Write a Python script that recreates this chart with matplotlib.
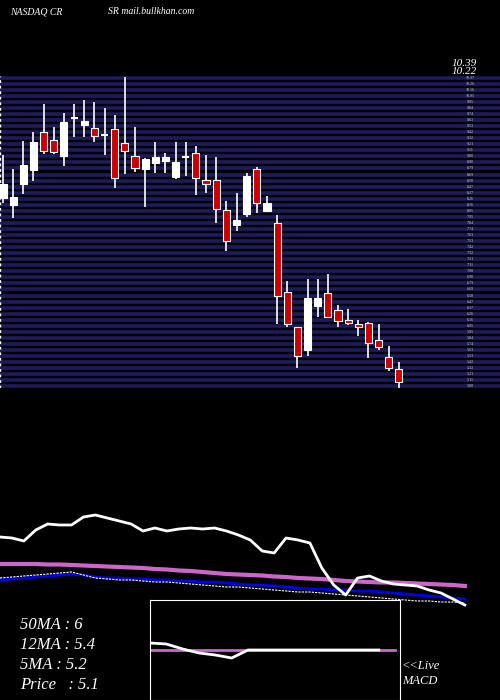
import matplotlib
matplotlib.use("Agg")
import matplotlib.pyplot as plt
from matplotlib.patches import Rectangle
import numpy as np

opens  = [8.28,8.15,8.52,8.76,9.43,9.29,9.01,9.67,9.55,9.50,9.37,9.48,9.23,9.01,8.78,8.89,8.92,8.64,8.99,9.06,
          8.59,8.59,8.07,7.81,8.00,8.78,8.05,7.84,6.64,6.03,5.63,6.40,6.62,6.33,6.15,6.08,6.10,5.81,5.51,5.30]
closes = [8.52,8.29,8.85,9.25,9.09,9.08,9.60,9.66,9.62,9.36,9.36,8.62,9.09,8.80,8.96,8.99,8.99,8.90,8.98,8.62,
          8.52,8.09,7.53,7.89,8.66,8.19,8.19,6.57,6.08,5.53,6.54,6.54,6.21,6.14,6.10,6.03,5.75,5.68,5.32,5.07]
highs  = [9.03,8.78,9.27,9.43,9.91,9.51,9.76,9.91,9.98,9.95,9.84,9.72,10.38,9.51,8.97,9.25,9.06,9.25,9.25,9.18,
          9.03,8.99,8.22,8.36,8.71,8.82,8.31,7.98,6.83,6.03,6.87,6.87,6.95,6.42,6.35,6.15,6.12,6.08,5.70,5.42]
lows   = [8.19,7.93,8.35,8.57,9.04,9.04,8.83,9.34,9.34,9.25,9.03,8.45,8.69,8.73,8.12,8.71,8.71,8.61,8.66,8.33,
          8.36,7.84,7.35,7.70,7.95,8.02,8.03,6.08,6.03,5.32,5.53,6.21,6.21,6.03,6.07,5.88,5.49,5.63,5.27,4.97]

price_line = [83,82,79,90,96,95,95,103,105,102,99,96,89,92,89,91,92,91,92,89,85,80,69,67,82,80,77,52,35,25,
              42,44,39,36,35,34,30,27,21,15]
ma50 = [56,56,56,56,55.5,55.5,55,54.5,54,53.5,53,52.5,52,51,50.5,49.5,49,48,47,46,45.5,45,44.5,43.5,43,42,41.5,
        41,40,39,38.5,38,37.5,37.5,37,36.5,36,35.5,35,34]
ma12 = [40,41,42,43,44,45,46,45,43,42,42,41,41,40,40,39,39,38,38,37,36,35,35,34,33,32,31,31,30,30,29,29,28,27,
        26,25,24,23,22,21]
ma5 = [42,43,44,45,46,47,48,45,42,41,40,40,39,38,38,37,36,35,34,33,33,32,31,30,29,28,28,27,26,25,24,23,22,21,
       20,19,19,18,18,17]
macd_line = [7,6,1,-3,-5,-8,0,0,0,0,0,0,0,0,0,0]
macd_signal = [0]*16

fig = plt.figure(figsize=(5, 7), dpi=100, facecolor="black")
W, H = 500, 700
def axes_px(x0, y0, x1, y1):
    return fig.add_axes([x0 / W, 1 - y1 / H, (x1 - x0) / W, (y1 - y0) / H])

# price panel
ax = axes_px(0, 76, 500, 388)
ax.set_facecolor("black")
ptop, pbot = 10.40, 11.722 - 0.0174 * 388
ax.set_ylim(pbot, ptop)
ax.set_xlim(-0.3, 48.96)
levels = np.linspace(ptop - 0.03, pbot + 0.03, 52)
for lv in levels:
    ax.axhline(lv, color="#1c1c5c", lw=2.6, zorder=0)
    ax.text(46.0, lv, f"{lv:.2f}", color="#cccccc", fontsize=3, va="center", ha="center",
            family="Liberation Serif", zorder=1)
for i, (o, c, h, l) in enumerate(zip(opens, closes, highs, lows)):
    ax.vlines(i, l, h, color="white", lw=1.2, zorder=2)
    up = c >= o
    bh = abs(c - o)
    if bh < 0.03:
        ax.hlines(o, i - 0.35, i + 0.35, color="white", lw=1.5, zorder=3)
    else:
        ax.add_patch(Rectangle((i - 0.35, min(o, c)), 0.7, bh,
                               facecolor="white" if up else "#cc0000",
                               edgecolor="white", lw=0.8, zorder=3))
ax.axvline(-0.28, color="white", lw=1, ls=(0, (2, 2)))
ax.axis("off")
fig.text(452 / W, 1 - 63 / H, "10.39", color="white", fontsize=8, family="Liberation Serif",
         style="italic", va="center")
fig.text(452 / W, 1 - 72 / H, "10.22", color="white", fontsize=8, family="Liberation Serif",
         style="italic", va="center")

# MA panel
ax2 = axes_px(0, 500, 500, 700)
ax2.set_facecolor("none")
ax2.set_xlim(0, 41.95)
ax2.set_ylim(-80, 120)
x = np.arange(len(price_line))
ax2.plot(x, ma50, color="#cc66cc", lw=3)
ax2.plot(x, ma12, color="#0000ee", lw=2)
ax2.plot(x, ma5, color="white", lw=0.8, ls=(0, (2, 1)))
ax2.plot(x, price_line, color="white", lw=2)
ax2.axis("off")

# MACD box
ax3 = axes_px(150, 600, 400, 700)
ax3.set_facecolor("black")
ax3.set_xlim(0, 15.3)
ax3.set_ylim(-50, 50)
ax3.plot(np.arange(len(macd_signal)), macd_signal, color="#cc66cc", lw=2)
ax3.plot(np.arange(len(macd_line))[:15], macd_line[:15], color="white", lw=2)
ax3.set_xticks([]); ax3.set_yticks([])
for s in ax3.spines.values():
    s.set_color("white")

fs = dict(color="white", family="Liberation Serif", style="italic")
fig.text(20 / W, 1 - 625 / H, "50MA : 6", fontsize=12, va="center", **fs)
fig.text(20 / W, 1 - 645 / H, "12MA : 5.4", fontsize=12, va="center", **fs)
fig.text(20 / W, 1 - 665 / H, "5MA : 5.2", fontsize=12, va="center", **fs)
fig.text(20 / W, 1 - 685 / H, "Price   : 5.1", fontsize=12, va="center", **fs)
fig.text(402 / W, 1 - 666 / H, "<<Live", fontsize=9, va="center", **fs)
fig.text(402 / W, 1 - 681 / H, "MACD", fontsize=9, va="center", **fs)
fig.text(10 / W, 1 - 12 / H, "NASDAQ CR", fontsize=7, va="center", **fs)
fig.text(108 / W, 1 - 12 / H, "SR mail.bullkhan.com", fontsize=7, va="center", **fs)

fig.savefig("out.png", dpi=100, facecolor="black")
